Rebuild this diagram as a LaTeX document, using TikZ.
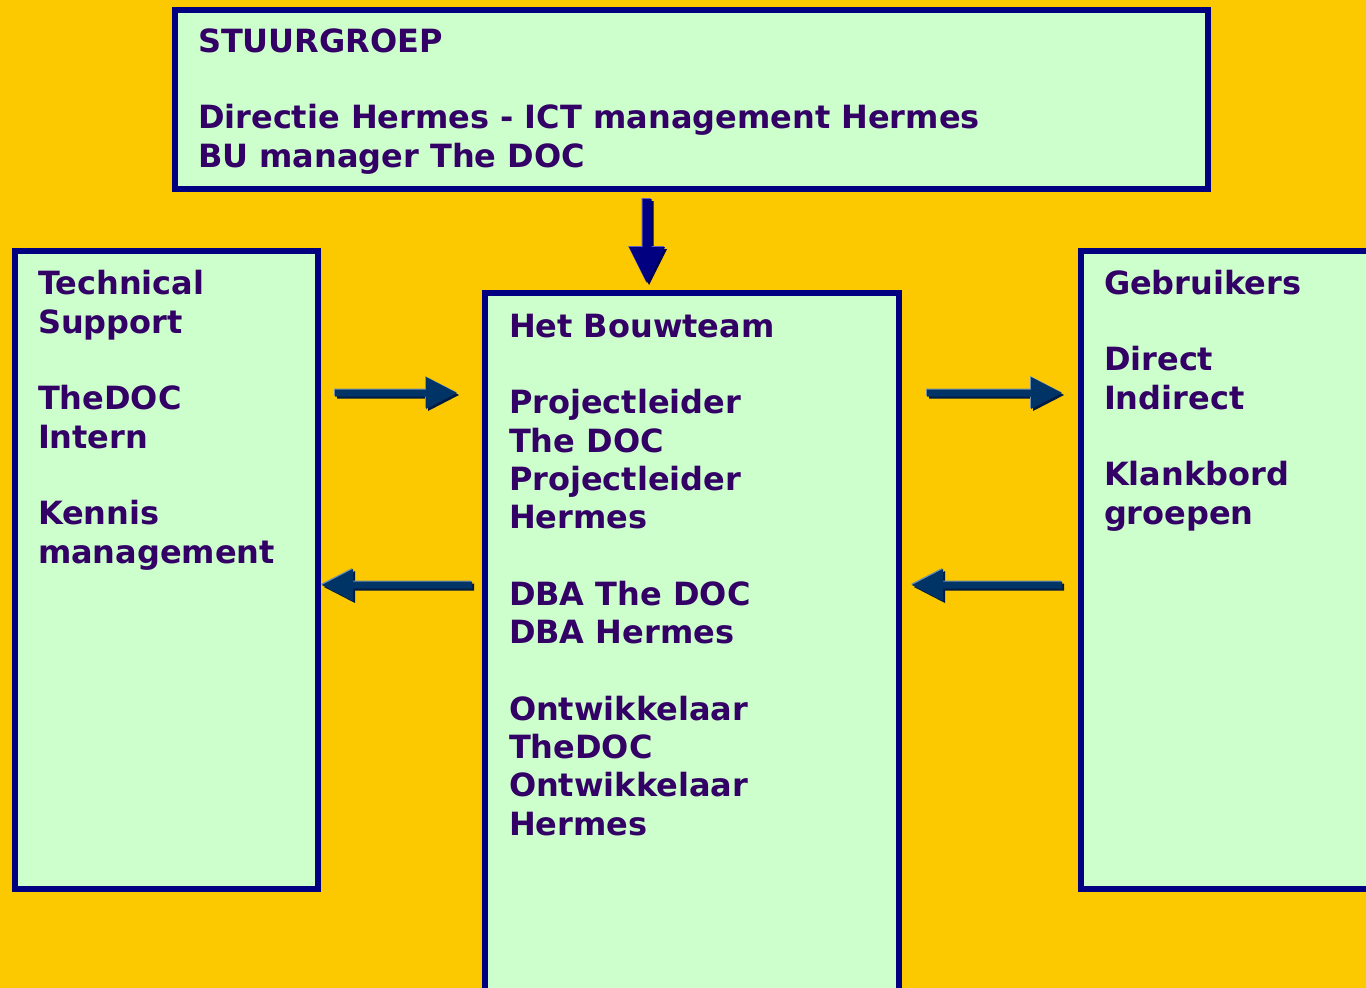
\documentclass[tikz,border=0pt]{standalone}
\usepackage{fontspec}
\setmainfont{DejaVu Sans}
\definecolor{bgyellow}{HTML}{FCC800}
\definecolor{boxgreen}{HTML}{CCFFCC}
\definecolor{boxnavy}{HTML}{000080}
\definecolor{txtpurple}{HTML}{330066}
\definecolor{arrblue}{HTML}{003366}
\definecolor{arrbluehi}{HTML}{7090B0}
\definecolor{arrblueshadow}{HTML}{001A40}
\definecolor{arrnavyhi}{HTML}{6060C0}
\definecolor{arrnavyshadow}{HTML}{000050}
\newcommand{\fatarrowshape}[4]{% length, shaft half, head half, head length
  (0,-#2) -- ({#1-#4},-#2) -- ({#1-#4},-#3) -- (#1,0) -- ({#1-#4},#3) -- ({#1-#4},#2) -- (0,#2) -- cycle}
\newcommand{\fatarrow}[9]{% tail, angle, length, shaft half, head half, head length, main, highlight, shadow
  \begin{scope}[shift={#1}]
    \begin{scope}[shift={(2,2)},rotate=#2]\fill[#9] \fatarrowshape{#3}{#4}{#5}{#6};\end{scope}
    \begin{scope}[shift={(-1,-1)},rotate=#2]\fill[#8] \fatarrowshape{#3}{#4}{#5}{#6};\end{scope}
    \begin{scope}[rotate=#2]\fill[#7] \fatarrowshape{#3}{#4}{#5}{#6};\end{scope}
  \end{scope}}
\begin{document}
\begin{tikzpicture}[x=1pt,y=-1pt,
  box/.style={draw=boxnavy,fill=boxgreen,line width=6pt,rectangle,outer sep=0pt,inner sep=0pt,anchor=north west},
  txt/.style={text=txtpurple,align=left,anchor=base west,inner sep=0pt,outer sep=0pt,
    font={\fontsize{32}{38.3}\selectfont\bfseries}}]
\useasboundingbox (0,0) rectangle (1366,988);
\clip (0,0) rectangle (1366,988);
\fill[bgyellow] (0,0) rectangle (1366,988);
% boxes
\node[box,minimum width=1033pt,minimum height=179pt] (top) at (175,10) {};
\node[box,minimum width=303pt,minimum height=638pt] (left) at (15,251) {};
\node[box,minimum width=414pt,minimum height=720pt] (center) at (485,293) {};
\node[box,minimum width=330pt,minimum height=638pt] (right) at (1081,251) {};
% texts (anchored at the baseline of the last line)
\node[txt] (toptxt) at (198,167) {STUURGROEP\\[38.3pt]Directie Hermes - ICT management Hermes\\BU manager The DOC};
\node[txt] (lefttxt) at (38,563) {Technical\\Support\\[38.3pt]TheDOC\\Intern\\[38.3pt]Kennis\\management};
\node[txt] (centertxt) at (509,835) {Het Bouwteam\\[38.3pt]Projectleider\\The DOC\\Projectleider\\Hermes\\[38.3pt]DBA The DOC\\DBA Hermes\\[38.3pt]Ontwikkelaar\\TheDOC\\Ontwikkelaar\\Hermes};
\node[txt] (righttxt) at (1104,524) {Gebruikers\\[38.3pt]Direct\\Indirect\\[38.3pt]Klankbord\\groepen};
% arrows
\coordinate (a1) at (335,393);
\coordinate (a2) at (472,585);
\coordinate (a3) at (927,393);
\coordinate (a4) at (1062,585);
\coordinate (a5) at (647,199);
\fatarrow{(a1)}{0}{122}{3.5}{16}{31}{arrblue}{arrbluehi}{arrblueshadow}
\fatarrow{(a2)}{180}{150}{3.5}{16}{31}{arrblue}{arrbluehi}{arrblueshadow}
\fatarrow{(a3)}{0}{135}{3.5}{16}{31}{arrblue}{arrbluehi}{arrblueshadow}
\fatarrow{(a4)}{180}{150}{3.5}{16}{31}{arrblue}{arrbluehi}{arrblueshadow}
\fatarrow{(a5)}{-90}{84}{4.5}{18}{36}{boxnavy}{arrnavyhi}{arrnavyshadow}
\end{tikzpicture}
\end{document}
